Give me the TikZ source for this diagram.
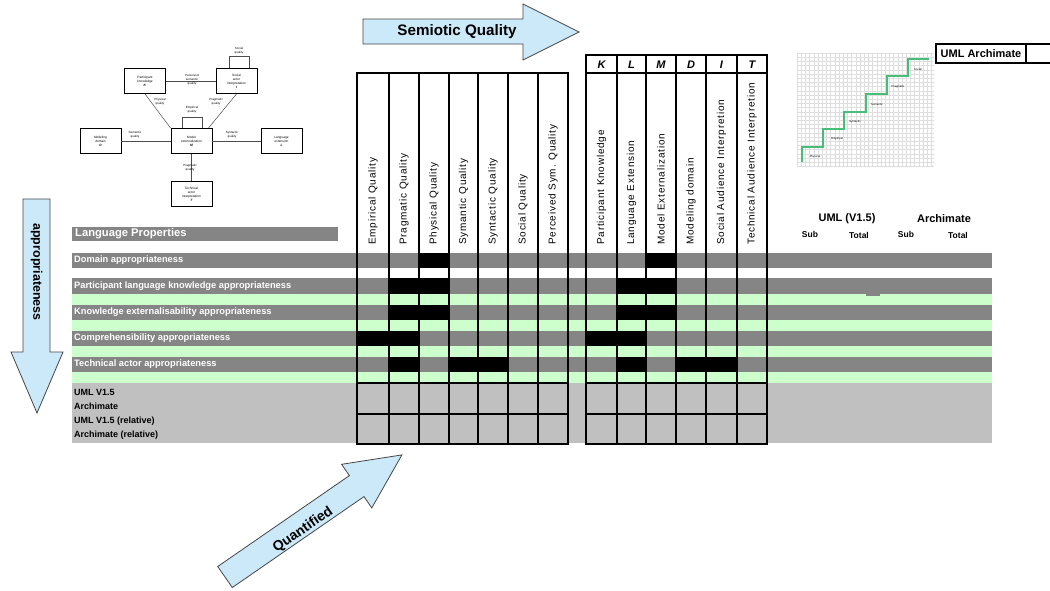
\documentclass[tikz,border=0pt]{standalone}
\usepackage{fontspec}
\setmainfont{Liberation Sans}
\newfontfamily\hdrfont[LetterSpace=8]{Liberation Sans}

\definecolor{rowgray}{RGB}{133,133,133}
\definecolor{rowgreen}{RGB}{204,255,204}
\definecolor{blockgray}{RGB}{192,192,192}
\definecolor{arrowblue}{RGB}{204,233,250}
\definecolor{arrowedge}{RGB}{70,70,70}
\definecolor{stairgreen}{RGB}{70,190,120}
\definecolor{gridgray}{RGB}{222,222,222}

\tikzset{
  rowlbl/.style={anchor=west, inner sep=0, text=white, font=\fontsize{9.3}{10}\selectfont\bfseries},
  blklbl/.style={anchor=west, inner sep=0, text=black, font=\fontsize{9}{10}\selectfont\bfseries},
  colhdr/.style={rotate=90, anchor=west, inner sep=0, font=\hdrfont\fontsize{10}{11}\selectfont},
  letterhdr/.style={inner sep=0, font=\fontsize{11}{12}\selectfont\bfseries\itshape},
  sidehdr/.style={inner sep=0, font=\fontsize{11}{12}\selectfont\bfseries},
  subhdr/.style={inner sep=0, font=\fontsize{8.5}{10}\selectfont\bfseries},
  gridrule/.style={line width=2pt, black},
  bigarrow/.style={fill=arrowblue, draw=arrowedge, line width=0.8pt, line join=miter},
  arrowlbl/.style={inner sep=0, font=\bfseries},
  mbox/.style={draw, line width=0.9pt, minimum width=41pt, minimum height=25pt, inner sep=0,
               align=center, font=\fontsize{3.2}{4}\selectfont},
  mlbl/.style={inner sep=0, align=center, font=\fontsize{3}{3.8}\selectfont},
  mline/.style={line width=0.5pt, black!70},
  stairlbl/.style={inner sep=0, font=\fontsize{2.8}{3}\selectfont},
  gridline/.style={gridgray, line width=0.3pt}
}

\begin{document}
\begin{tikzpicture}[x=1pt, y=-1pt]
\useasboundingbox (0,0) rectangle (1050,590);
\fill[white] (0,0) rectangle (1050,590);

% ---------- quality framework sketch ----------
\node[mbox] (pk) at (145,81) {Participant\\knowledge\\\textbf{\textit{K}}};
\node[mbox] (sa) at (236.5,81) {Social\\actor\\interpretation\\\textbf{\textit{I}}};
\node[mbox] (md) at (100.5,141) {Modeling\\domain\\\textbf{\textit{D}}};
\node[mbox] (mx) at (191.5,141) {Model\\externalization\\\textbf{\textit{M}}};
\node[mbox] (le) at (281.5,141) {Language\\extension\\\textbf{\textit{L}}};
\node[mbox] (ta) at (191.5,194) {Technical\\actor\\interpretation\\\textbf{\textit{T}}};

\draw[mline] (pk) -- (sa);
\draw[mline] (pk.south) -- (mx.north west);
\draw[mline] (sa.south) -- ([xshift=-4]mx.north east);
\draw[mline] (md) -- (mx);
\draw[mline] (mx) -- (le);
\draw[mline] (mx) -- (ta);
\draw[mline] ([xshift=-7.5]sa.north) -- ++(0,-12) -| ([xshift=12.5]sa.north);
\draw[mline] ([xshift=-9.5]mx.north) -- ++(0,-11) -| ([xshift=10.5]mx.north);

\node[mlbl] (q1) at (192,80) {Perceived\\semantic\\quality};
\node[mlbl] (q2) at (160,102) {Physical\\quality};
\node[mlbl] (q3) at (216,102) {Pragmatic\\quality};
\node[mlbl] (q4) at (192,110) {Empirical\\quality};
\node[mlbl] (q5) at (239,51) {Social\\quality};
\node[mlbl] (q6) at (135,135) {Semantic\\quality};
\node[mlbl] (q7) at (232,135) {Syntactic\\quality};
\node[mlbl] (q8) at (190,168) {Pragmatic\\quality};

% ---------- quality staircase ----------
\foreach \i in {0,...,32} \draw[gridline] ({797+\i*4.2},53) -- ({797+\i*4.2},167);
\foreach \j in {0,...,27} \draw[gridline] (797,{53+\j*4.2}) -- (934,{53+\j*4.2});
\draw[stairgreen, line width=1.2pt]
  (802,162) -- (802,147) -- (823,147) -- (823,129) -- (844,129) -- (844,112)
  -- (866,112) -- (866,94) -- (887,94) -- (887,76) -- (908,76) -- (908,59) -- (929,59);
\node[stairlbl] (s1) at (815,157) {Physical};
\node[stairlbl] (s2) at (837,139) {Empirical};
\node[stairlbl] (s3) at (855,122) {Syntactic};
\node[stairlbl] (s4) at (877,104) {Semantic};
\node[stairlbl] (s5) at (898,87) {Pragmatic};
\node[stairlbl] (s6) at (918,69) {Social};

\draw[line width=1.5pt] (936,44) rectangle (1060,63);
\draw[line width=1.5pt] (1026,44) -- (1026,63);
\node[sidehdr] (ua) at (981,53.5) {UML Archimate};

% ---------- row stripes ----------
\fill[rowgray] (72,227) rectangle (338,241);
\node[rowlbl, font=\fontsize{11.2}{12}\selectfont\bfseries] (lp) at (75,234) {Language Properties};

\fill[rowgray]  (72,253) rectangle (992,268);
\fill[rowgray]  (72,278) rectangle (992,294);
\fill[rowgreen] (72,294) rectangle (992,305);
\fill[rowgray]  (72,305) rectangle (992,320);
\fill[rowgreen] (72,320) rectangle (992,331);
\fill[rowgray]  (72,331) rectangle (992,346);
\fill[rowgreen] (72,346) rectangle (992,357);
\fill[rowgray]  (72,357) rectangle (992,372);
\fill[rowgreen] (72,372) rectangle (992,383);
\fill[blockgray](72,383) rectangle (992,443);
\fill[rowgray]  (866,292) rectangle (880,296);

\node[rowlbl] (r1) at (74,260.5) {Domain appropriateness};
\node[rowlbl] (r2) at (74,286) {Participant language knowledge appropriateness};
\node[rowlbl] (r3) at (74,312.5) {Knowledge externalisability appropriateness};
\node[rowlbl] (r4) at (74,338.5) {Comprehensibility appropriateness};
\node[rowlbl] (r5) at (74,364.5) {Technical actor appropriateness};

\node[blklbl] (b1) at (74,392) {UML V1.5};
\node[blklbl] (b2) at (74,406) {Archimate};
\node[blklbl] (b3) at (74,421) {UML V1.5 (relative)};
\node[blklbl] (b4) at (74,435) {Archimate (relative)};

% ---------- marked cells ----------
\fill[black] (419,253) rectangle (449,268);
\fill[black] (646,253) rectangle (676,268);
\fill[black] (389,278) rectangle (449,294);
\fill[black] (617,278) rectangle (676,294);
\fill[black] (389,305) rectangle (449,320);
\fill[black] (617,305) rectangle (676,320);
\fill[black] (357,331) rectangle (419,346);
\fill[black] (586,331) rectangle (646,346);
\fill[black] (389,357) rectangle (419,372);
\fill[black] (449,357) rectangle (508,372);
\fill[black] (617,357) rectangle (646,372);
\fill[black] (676,357) rectangle (737,372);

% ---------- column grids ----------
\draw[gridrule] (357,73) rectangle (568,444);
\foreach \x in {389,419,449,478,508,538} \draw[gridrule] (\x,73) -- (\x,444);
\foreach \y in {383,414} \draw[gridrule] (357,\y) -- (568,\y);

\draw[gridrule] (586,55) rectangle (767,444);
\foreach \x in {617,646,676,706,737} \draw[gridrule] (\x,55) -- (\x,444);
\foreach \y in {73,383,414} \draw[gridrule] (586,\y) -- (767,\y);

\foreach \x/\t [count=\i] in {373/Empirical Quality, 404/Pragmatic Quality, 434/Physical Quality,
    463.5/Symantic Quality, 493/Syntactic Quality, 523/Social Quality, 553/Perceived Sym. Quality}
  \node[colhdr] (ga\i) at (\x,245) {\t};
\foreach \x/\t [count=\i] in {601.5/Participant Knowledge, 631.5/Language Extension,
    661/Model Externalization, 691/Modeling domain, 721.5/Social Audience Interpretion,
    752/Technical Audience Interpretion}
  \node[colhdr] (gb\i) at (\x,245) {\t};
\foreach \x/\t [count=\i] in {601.5/K, 631.5/L, 661/M, 691/D, 721.5/I, 752/T}
  \node[letterhdr] (lt\i) at (\x,64.5) {\t};

% ---------- score headers ----------
\node[sidehdr] (su) at (847,219) {UML (V1.5)};
\node[sidehdr] (sr) at (944,219) {Archimate};
\node[subhdr] (sb1) at (810,234) {Sub};
\node[subhdr] (st1) at (859,235) {Total};
\node[subhdr] (sb2) at (906,234) {Sub};
\node[subhdr] (st2) at (958,235) {Total};

% ---------- direction arrows ----------
\draw[bigarrow] (363,19) -- (523,19) -- (523,4) -- (579,32) -- (523,60) -- (523,44) -- (363,44) -- cycle;
\node[arrowlbl, font=\fontsize{15.2}{17}\selectfont\bfseries] (aq) at (457,32) {Semiotic Quality};

\draw[bigarrow] (23,199) -- (50,199) -- (50,352) -- (63,352) -- (37,413) -- (11,352) -- (23,352) -- cycle;
\node[arrowlbl, rotate=-90, font=\fontsize{12.5}{14}\selectfont\bfseries] (ap) at (36.5,272) {appropriateness};

\draw[bigarrow] (217.7,566.5) -- (349.4,475.6) -- (341.6,464.3) -- (401.9,454.9)
  -- (371.8,507.9) -- (364,496.6) -- (232.3,587.5) -- cycle;
\node[arrowlbl, rotate=34.6, font=\fontsize{14}{16}\selectfont\bfseries] (qn) at (303,530) {Quantified};
\end{tikzpicture}
\end{document}
